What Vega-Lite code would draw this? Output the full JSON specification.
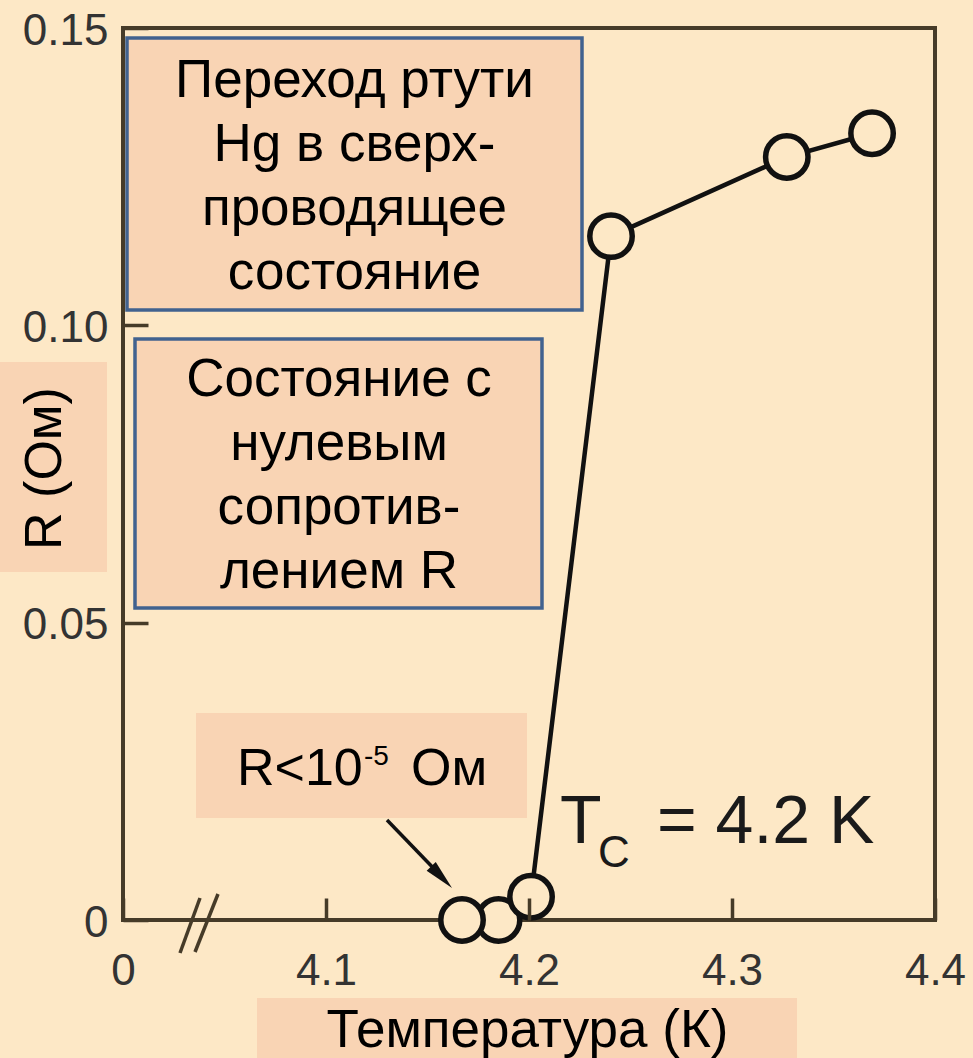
{
  "$schema": "https://vega.github.io/schema/vega-lite/v6.json",
  "width": 812,
  "height": 892,
  "autosize": {"type": "none"},
  "padding": {"left": 123, "top": 28, "right": 38, "bottom": 138},
  "background": "#fde8c6",
  "config": {
    "view": {"stroke": "#463b28", "strokeWidth": 4},
    "font": "Liberation Sans"
  },
  "datasets": {
    "pts": [
      {"x": 4.185, "y": 0},
      {"x": 4.167, "y": 0},
      {"x": 4.201, "y": 0.0039},
      {"x": 4.2404, "y": 0.115},
      {"x": 4.327, "y": 0.1283},
      {"x": 4.369, "y": 0.1323}
    ],
    "framed": [
      {"x": 4.00197, "x2": 4.22611, "y": 0.14832, "y2": 0.10258},
      {"x": 4.00591, "x2": 4.2064, "y": 0.0977, "y2": 0.05247}
    ],
    "plain": [
      {"x": 4.03596, "x2": 4.19901, "y": 0.03481, "y2": 0.01715},
      {"x": 3.93941, "x2": 3.99212, "y": 0.09383, "y2": 0.05852},
      {"x": 4.06601, "x2": 4.33202, "y": -0.01312, "y2": -0.02321}
    ],
    "brk": [
      {"x": 4.02808, "y": -0.00555, "x2": 4.03793, "y2": 0.0037},
      {"x": 4.03547, "y": -0.00538, "x2": 4.0468, "y2": 0.00437}
    ],
    "arrow": [{"x": 4.13005, "y": 0.01682, "x2": 4.15714, "y2": 0.00723}],
    "head": [{"x": 4.15695, "y": 0.0072}],
    "boxtext": [
      {"x": 4.11404, "y": 0.1384, "t": "Переход ртути\nHg в сверх-\nпроводящее\nсостояние"},
      {"x": 4.1064, "y": 0.08812, "t": "Состояние с\nнулевым\nсопротив-\nлением R"}
    ],
    "big": [
      {"x": 4.05616, "y": 0.0227, "t": "R<10"},
      {"x": 4.14187, "y": 0.0227, "t": "Ом"}
    ],
    "sup": [{"x": 4.11872, "y": 0.02606, "t": "-5"}],
    "tc": [
      {"x": 4.21527, "y": 0.01295, "t": "T"},
      {"x": 4.26305, "y": 0.01295, "t": "= 4.2 K"}
    ],
    "sub": [{"x": 4.23400, "y": 0.00891, "t": "C"}]
  },
  "encoding": {
    "x": {
      "field": "x", "type": "quantitative",
      "scale": {"domain": [4, 4.4], "nice": false, "zero": false},
      "axis": {
        "zindex": 2,
        "values": [4, 4.1, 4.2, 4.3, 4.4],
        "labelExpr": "datum.value == 4 ? '0' : format(datum.value, '.1f')",
        "title": "Температура (К)",
        "domain": false, "grid": false,
        "tickSize": -22, "tickWidth": 3.5, "tickColor": "#463b28",
        "labelFontSize": 44, "labelColor": "#333333", "labelPadding": 51,
        "labelFlush": false, "labelOverlap": false,
        "titleFontSize": 53, "titleFontWeight": "normal", "titleColor": "#000000",
        "titleX": 404, "titleY": 110, "titleBaseline": "middle", "titleAlign": "center"
      }
    },
    "y": {
      "field": "y", "type": "quantitative",
      "scale": {"domain": [0, 0.15], "nice": false, "zero": false},
      "axis": {
        "zindex": 2,
        "values": [0, 0.05, 0.1, 0.15],
        "labelExpr": "datum.value == 0 ? '0' : format(datum.value, '.2f')",
        "title": "R (Ом)",
        "domain": false, "grid": false,
        "tickSize": -25, "tickWidth": 3.5, "tickColor": "#463b28",
        "labelFontSize": 44, "labelColor": "#333333", "labelPadding": 40,
        "labelOffset": 3,
        "labelFlush": false, "labelOverlap": false,
        "titleFontSize": 52, "titleFontWeight": "normal", "titleColor": "#000000",
        "titleX": -79, "titleY": 440, "titleAngle": 270, "titleBaseline": "middle", "titleAlign": "center"
      }
    }
  },
  "layer": [
    {
      "data": {"name": "plain"},
      "mark": {"type": "rect", "fill": "#f9d4b4", "clip": false},
      "encoding": {"x2": {"field": "x2"}, "y2": {"field": "y2"}}
    },
    {
      "data": {"name": "framed"},
      "mark": {"type": "rect", "fill": "#f9d4b4", "stroke": "#41628f", "strokeWidth": 3.5},
      "encoding": {"x2": {"field": "x2"}, "y2": {"field": "y2"}}
    },
    {
      "data": {"name": "brk"},
      "mark": {"type": "rule", "stroke": "#463b28", "strokeWidth": 3.5},
      "encoding": {"x2": {"field": "x2"}, "y2": {"field": "y2"}}
    },
    {
      "data": {"name": "arrow"},
      "mark": {"type": "rule", "stroke": "#111111", "strokeWidth": 3.5},
      "encoding": {"x2": {"field": "x2"}, "y2": {"field": "y2"}}
    },
    {
      "data": {"name": "head"},
      "mark": {"type": "point", "shape": "M0,-1L0.42,1L-0.42,1Z", "size": 900, "angle": 136, "filled": true, "fill": "#111111", "opacity": 1, "strokeWidth": 0}
    },
    {
      "data": {"name": "pts"},
      "mark": {"type": "line", "stroke": "#111111", "strokeWidth": 4.5}
    },
    {
      "data": {"name": "pts"},
      "mark": {"type": "point", "shape": "circle", "size": 1800, "filled": false, "fill": "#fde8c6", "fillOpacity": 1, "stroke": "#111111", "strokeWidth": 5.5, "opacity": 1}
    },
    {
      "data": {"name": "boxtext"},
      "mark": {"type": "text", "fontSize": 53, "lineBreak": "\n", "lineHeight": 64, "align": "center", "baseline": "alphabetic", "color": "#000000"},
      "encoding": {"text": {"field": "t"}}
    },
    {
      "data": {"name": "big"},
      "mark": {"type": "text", "fontSize": 52, "align": "left", "baseline": "alphabetic", "color": "#000000"},
      "encoding": {"text": {"field": "t"}}
    },
    {
      "data": {"name": "sup"},
      "mark": {"type": "text", "fontSize": 28, "align": "left", "baseline": "alphabetic", "color": "#000000"},
      "encoding": {"text": {"field": "t"}}
    },
    {
      "data": {"name": "tc"},
      "mark": {"type": "text", "fontSize": 68, "align": "left", "baseline": "alphabetic", "color": "#1a1a1a"},
      "encoding": {"text": {"field": "t"}}
    },
    {
      "data": {"name": "sub"},
      "mark": {"type": "text", "fontSize": 44, "align": "left", "baseline": "alphabetic", "color": "#1a1a1a"},
      "encoding": {"text": {"field": "t"}}
    }
  ]
}
